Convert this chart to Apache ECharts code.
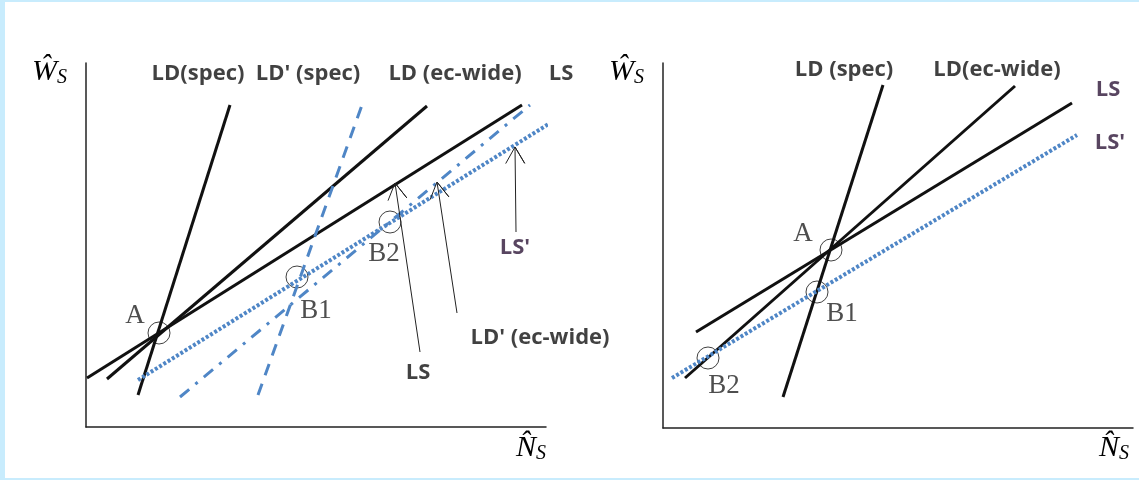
<!DOCTYPE html>
<html>
<head>
<meta charset="utf-8">
<script src="https://cdn.jsdelivr.net/npm/echarts@6/dist/echarts.min.js"></script>
<style>
  html, body { margin: 0; padding: 0; background: #c8ecfd; }
  #main { position: absolute; left: 5px; top: 2px; width: 1134px; height: 476px; background: #fff; }
</style>
</head>
<body>
<div id="main"></div>
<script>
// units: roughly one pixel from each panel's origin
// left panel lines
const leftLDspec = [[52, 32], [144, 322]];
const leftLDpspec = [[172, 32], [276, 322]];
const leftLDec = [[21, 48], [341, 321]];
const leftLS = [[1, 49], [436, 322]];
const leftLDpec = [[94, 30], [444, 322]];
const leftLSp = [[52, 47], [469, 307]];
const leftPoints = [[73, 94], [211, 150], [304, 205]];
const leftPointNames = ["A", "B1", "B2"];
const leftPointLabelPos = [[49, 111], [230, 116], [298, 173]];
// arrows: [tail, tip]
const leftArrows = [
  [[334, 75], [309, 244]],
  [[371, 114], [351, 245]],
  [[430, 195], [429, 280]]
];
const leftLabels = ["LD(spec)", "LD' (spec)", "LD (ec-wide)", "LS", "LS", "LD' (ec-wide)", "LS'"];
const leftLabelPos = [[112, 353], [222, 353], [369, 353], [475, 353], [332, 54], [454, 89], [429, 179]];

// right panel lines
const rightLDspec = [[120, 31], [220, 343]];
const rightLDec = [[22, 50], [352, 342]];
const rightLS = [[33, 96], [409, 325]];
const rightLSp = [[9, 50], [414, 293]];
const rightPoints = [[168, 178], [154, 136], [45, 70]];
const rightPointNames = ["A", "B1", "B2"];
const rightPointLabelPos = [[140, 194], [179, 114], [61, 42]];
const rightLabels = ["LD (spec)", "LD(ec-wide)", "LS", "LS'"];
const rightLabelPos = [[181, 358], [334, 358], [445, 338], [447, 285]];

const blue = "#4f86c6";
const ink = "#111";
const purple = "#2e1638";

let chart = echarts.init(document.getElementById("main"));

function line(data, idx, color, width, type) {
  return {
    type: "line", xAxisIndex: idx, yAxisIndex: idx, data: data,
    symbol: "none", clip: false, silent: true,
    lineStyle: { color: color, width: width, type: type, cap: "butt" }
  };
}

function arrow(a, idx) {
  const tail = a[0], tip = a[1];
  let dx = tip[0] - tail[0], dy = tip[1] - tail[1];
  const len = Math.sqrt(dx * dx + dy * dy);
  dx /= len; dy /= len;
  const L = 19, ang = Math.PI / 6;
  const w = [];
  [ang, -ang].forEach(function (t) {
    const rx = dx * Math.cos(t) - dy * Math.sin(t);
    const ry = dx * Math.sin(t) + dy * Math.cos(t);
    w.push([tip[0] - L * rx, tip[1] - L * ry]);
  });
  return line([tail, tip, w[0], tip, w[1]], idx, "#222", 1, "solid");
}

function circles(data, idx) {
  return {
    type: "scatter", xAxisIndex: idx, yAxisIndex: idx, data: data,
    symbolSize: 22, clip: false, silent: true,
    itemStyle: { color: "rgba(0,0,0,0)", borderColor: "#111", borderWidth: 1 }
  };
}

function texts(names, pos, idx, style) {
  return {
    type: "scatter", xAxisIndex: idx, yAxisIndex: idx, clip: false, silent: true,
    symbolSize: 0,
    data: names.map(function (n, i) { return { value: pos[i], name: n }; }),
    label: Object.assign({ show: true, position: "inside", formatter: "{b}" }, style)
  };
}

const boldLab = { fontFamily: "Open Sans", fontWeight: "bold", fontSize: 22, color: ink };
const serifLab = { fontFamily: "Liberation Serif", fontSize: 27, color: "#222" };

function axisPair(max, idx) {
  return {
    x: { type: "value", gridIndex: idx, min: 0, max: max[0], axisLine: { lineStyle: { color: "#222", width: 1.5 } },
         axisTick: { show: false }, axisLabel: { show: false }, splitLine: { show: false } },
    y: { type: "value", gridIndex: idx, min: 0, max: max[1], axisLine: { lineStyle: { color: "#222", width: 1.5 } },
         axisTick: { show: false }, axisLabel: { show: false }, splitLine: { show: false } }
  };
}
const ax0 = axisPair([460, 364], 0);
const ax1 = axisPair([470, 365], 1);

const mathRich = {
  w: { fontFamily: "Liberation Serif", fontStyle: "italic", fontSize: 30, color: "#333" },
  s: { fontFamily: "Liberation Serif", fontStyle: "italic", fontSize: 20, color: "#333", padding: [12, 0, 0, 0] }
};

chart.setOption({
  animation: false,
  grid: [
    { left: 81, top: 61, width: 460, height: 364 },
    { left: 658, top: 61, width: 470, height: 365 }
  ],
  xAxis: [ax0.x, ax1.x],
  yAxis: [ax0.y, ax1.y],
  graphic: [
    { type: "text", left: 27, top: 55, style: { text: "{w|\u0174}{s|S}", rich: mathRich } },
    { type: "text", left: 511, top: 431, style: { text: "{w|N\u0302}{s|S}", rich: mathRich } },
    { type: "text", left: 604, top: 55, style: { text: "{w|\u0174}{s|S}", rich: mathRich } },
    { type: "text", left: 1094, top: 431, style: { text: "{w|N\u0302}{s|S}", rich: mathRich } }
  ],
  series: [
    line(leftLDspec, 0, ink, 3, "solid"),
    line(leftLDec, 0, ink, 3, "solid"),
    line(leftLS, 0, ink, 3, "solid"),
    line(leftLDpspec, 0, blue, 3, [12, 9]),
    line(leftLDpec, 0, blue, 3, [12, 8, 3, 8]),
    line(leftLSp, 0, blue, 4, [3, 2]),
    circles(leftPoints, 0),
    arrow(leftArrows[0], 0),
    arrow(leftArrows[1], 0),
    arrow(leftArrows[2], 0),
    texts(leftPointNames, leftPointLabelPos, 0, serifLab),
    texts(leftLabels.slice(0, 6), leftLabelPos.slice(0, 6), 0, boldLab),
    texts(leftLabels.slice(6), leftLabelPos.slice(6), 0, Object.assign({}, boldLab, { color: purple })),

    line(rightLDspec, 1, ink, 3, "solid"),
    line(rightLDec, 1, ink, 3, "solid"),
    line(rightLS, 1, ink, 3, "solid"),
    line(rightLSp, 1, blue, 4, [3, 2]),
    circles(rightPoints, 1),
    texts(rightPointNames, rightPointLabelPos, 1, serifLab),
    texts(rightLabels.slice(0, 2), rightLabelPos.slice(0, 2), 1, boldLab),
    texts(rightLabels.slice(2), rightLabelPos.slice(2), 1, Object.assign({}, boldLab, { color: purple }))
  ]
});
</script>
</body>
</html>
